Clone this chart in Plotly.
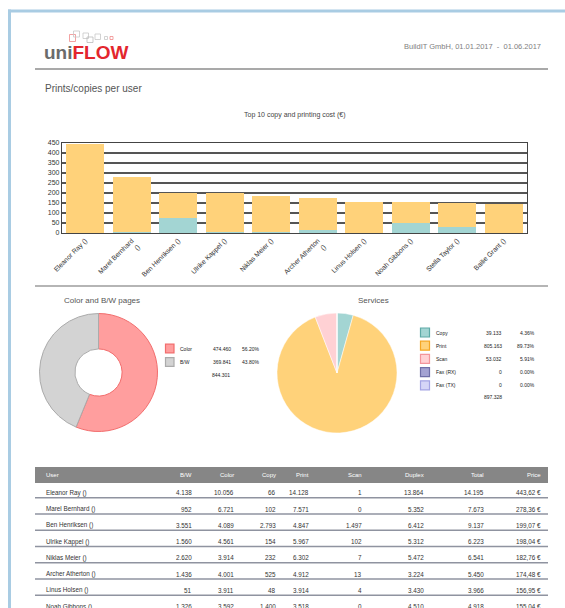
import plotly.graph_objects as go

W, H = 565, 608
FONT = "Liberation Sans, Arial, Helvetica, sans-serif"

# ---------------- data ----------------
bar_users = ["Eleanor Ray ()", "Marel Bernhard<br>()", "Ben Henriksen ()", "Ulrike Kappel ()",
             "Niklas Meier ()", "Archer Atherton<br>()", "Linus Holsen ()", "Noah Gibbons ()",
             "Stella Taylor ()", "Bailie Grant ()"]
bar_total_cost = [443.62, 278.36, 199.07, 198.04, 182.76, 174.48, 156.95, 155.04, 151.5, 147.0]
bar_copy_cost = [2, 3, 75, 4, 7, 14, 1.5, 50, 28, 1]
bar_print_cost = [t - c for t, c in zip(bar_total_cost, bar_copy_cost)]
y_ticks = [0, 50, 100, 150, 200, 250, 300, 350, 400, 450]

cbw_labels = ["Color", "B/W"]
cbw_values = [474460, 369841]
cbw_colors = ["#ff9e9e", "#d3d3d3"]
cbw_lines = ["#f26d6d", "#ababab"]

svc_labels = ["Copy", "Print", "Scan", "Fax (RX)", "Fax (TX)"]
svc_values = [39133, 805163, 53032, 0, 0]
svc_colors = ["#a3d5d3", "#ffd27a", "#ffd1d4", "#a3a2d2", "#d5d5f7"]
svc_lines = ["#5eaaa7", "#f5a623", "#f3959b", "#6f6fa8", "#a3a3e3"]

tbl_header = ["User", "B/W", "Color", "Copy", "Print", "Scan", "Duplex", "Total", "Price"]
tbl_user = ["Eleanor Ray ()", "Marel Bernhard ()", "Ben Henriksen ()", "Ulrike Kappel ()",
            "Niklas Meier ()", "Archer Atherton ()", "Linus Holsen ()", "Noah Gibbons ()"]
tbl_bw = [4138, 952, 3551, 1560, 2620, 1436, 51, 1326]
tbl_color = [10056, 6721, 4089, 4561, 3914, 4001, 3911, 3592]
tbl_copy = [66, 102, 2793, 154, 232, 525, 48, 1400]
tbl_print = [14128, 7571, 4847, 5967, 6302, 4912, 3914, 3518]
tbl_scan = [1, 0, 1497, 102, 7, 13, 4, 0]
tbl_duplex = [13864, 5352, 6412, 5312, 5472, 3224, 3430, 4510]
tbl_total = [14195, 7673, 9137, 6223, 6541, 5450, 3966, 4918]
tbl_price = [443.62, 278.36, 199.07, 198.04, 182.76, 174.48, 156.95, 155.04]


def de_int(v):
    return f"{v:,}".replace(",", ".")


def de_money(v):
    return f"{v:,.2f}".replace(",", "X").replace(".", ",").replace("X", ".") + " €"


def de_pct(v):
    return f"{v:.2f}%"


def px(x):
    return x / W


def py(y):
    return 1 - y / H


fig = go.Figure()

# ---------------- bar chart ----------------
fig.add_trace(go.Bar(x=bar_users, y=bar_copy_cost, marker=dict(color="#a3d5d3", line=dict(width=0)),
                     name="Copy", showlegend=False))
fig.add_trace(go.Bar(x=bar_users, y=bar_print_cost, marker=dict(color="#ffd27a", line=dict(width=0)),
                     name="Print", showlegend=False))

# ---------------- pies ----------------
fig.add_trace(go.Pie(labels=cbw_labels, values=cbw_values, hole=0.4, sort=False, direction="clockwise",
                     rotation=0, textinfo="none", showlegend=False, automargin=False,
                     marker=dict(colors=cbw_colors, line=dict(color=cbw_lines, width=1)),
                     domain=dict(x=[px(39.5), px(157.5)], y=[py(432), py(313)])))
fig.add_trace(go.Pie(labels=svc_labels, values=svc_values, sort=False, direction="clockwise",
                     rotation=0, textinfo="none", showlegend=False, automargin=False,
                     marker=dict(colors=svc_colors, line=dict(color="#ffffff", width=0.5)),
                     domain=dict(x=[px(277), px(397)], y=[py(433), py(313)])))

shapes = []
ann = []


def text(x, y, s, size, color="#333", xanchor="left", yanchor="middle", **kw):
    ann.append(dict(x=px(x), y=py(y), xref="paper", yref="paper", text=s, showarrow=False,
                    xanchor=xanchor, yanchor=yanchor, font=dict(size=size, color=color, family=FONT),
                    borderpad=0, borderwidth=0, **kw))


def rect(x0, y0, x1, y1, fill=None, line=None, lw=1):
    shapes.append(dict(type="rect", xref="paper", yref="paper", x0=px(x0), x1=px(x1), y0=py(y1), y1=py(y0),
                       fillcolor=fill if fill else "rgba(0,0,0,0)",
                       line=dict(color=line if line else "rgba(0,0,0,0)", width=lw if line else 0)))


def hline(x0, x1, y, color, lw):
    shapes.append(dict(type="line", xref="paper", yref="paper", x0=px(x0), x1=px(x1), y0=py(y), y1=py(y),
                       line=dict(color=color, width=lw)))


# page frame
rect(8, 9.5, W, 12.5, fill="#a9cce3")
rect(8, 9.5, 11, H, fill="#a9cce3")

# logo squares
rect(69.5, 34.5, 75.5, 41.5, line="#f08a8a", lw=0.8)
rect(73.5, 31, 79.5, 37, line="#c8c8c8", lw=0.8)
rect(83, 33, 88.5, 38.5, line="#c8c8c8", lw=0.8)
rect(87, 37, 93, 42.5, line="#bbbbbb", lw=0.8)
rect(95, 34, 100.5, 39.5, line="#c8c8c8", lw=0.8)
rect(104.5, 36.5, 107.5, 39.5, line="#c8c8c8", lw=0.8)
rect(110, 36.5, 113, 39.5, line="#f08a8a", lw=0.8)
text(44, 52.5, "<b><span style='color:#6b6b6b'>uni</span><span style='color:#e3262d'>FLOW</span></b>", 19)

text(541, 46, "BuildIT GmbH, 01.01.2017  -  01.06.2017", 7.5, color="#808080", xanchor="right")
hline(35, 548, 69, "#8c8c8c", 1.5)
text(45, 88, "Prints/copies per user", 10, color="#555")
text(295, 115, "Top 10 copy and printing cost (€)", 7, color="#444", xanchor="center")

hline(35, 548, 286, "#9c9c9c", 1.5)
text(102, 300, "Color and B/W pages", 8, color="#555", xanchor="center")
text(373, 300, "Services", 8, color="#555", xanchor="center")

# donut legend
cbw_total = sum(cbw_values)
for i, (lab, v) in enumerate(zip(cbw_labels, cbw_values)):
    yc = 348.5 + i * 13.5
    rect(165.5, yc - 4.3, 174, yc + 4.3, fill=cbw_colors[i], line=cbw_lines[i], lw=1.2)
    text(179.5, yc, lab, 5, color="#222")
    text(231, yc, de_int(v), 5, color="#222", xanchor="right")
    text(260, yc, de_pct(100 * v / cbw_total), 5, color="#222", xanchor="right")
text(230, 374.5, de_int(cbw_total), 5, color="#222", xanchor="right")

# services legend
svc_total = sum(svc_values)
for i, (lab, v) in enumerate(zip(svc_labels, svc_values)):
    yc = 332.5 + i * 13.2
    rect(420.5, yc - 4.5, 429.5, yc + 4.5, fill=svc_colors[i], line=svc_lines[i], lw=1.2)
    text(436, yc, lab, 5, color="#222")
    text(501.5, yc, de_int(v), 5, color="#222", xanchor="right")
    text(534.5, yc, de_pct(100 * v / svc_total), 5, color="#222", xanchor="right")
text(501.5, 397, de_int(svc_total), 5, color="#222", xanchor="right")

# ---------------- table ----------------
col_right = [None, 192, 233.5, 276, 308.5, 361.5, 423.5, 484, 541]
rect(35, 467, 548, 483, fill="#868686")
for j, h in enumerate(tbl_header):
    if j == 0:
        text(46, 475, h, 6, color="#ffffff")
    else:
        text(col_right[j], 475, h, 6, color="#ffffff", xanchor="right")

rows = list(zip(tbl_user, tbl_bw, tbl_color, tbl_copy, tbl_print, tbl_scan, tbl_duplex, tbl_total, tbl_price))
for i, r in enumerate(rows):
    yc = 492.8 + i * 16.25
    text(46, yc, r[0], 6.3, color="#333")
    for j in range(1, 8):
        text(col_right[j], yc, de_int(r[j]), 6.3, color="#333", xanchor="right")
    text(col_right[8], yc, de_money(r[8]), 6.3, color="#333", xanchor="right")
    sep = 497.8 + i * 16.25
    if sep < H:
        hline(35, 548, sep, "#8f93a0", 1.5)

fig.update_layout(
    width=W, height=H, margin=dict(l=0, r=0, t=0, b=0, pad=0, autoexpand=False),
    paper_bgcolor="#ffffff", plot_bgcolor="#ffffff",
    barmode="stack", bargap=0.19,
    font=dict(family=FONT, color="#333"),
    showlegend=False,
    shapes=shapes, annotations=ann,
    xaxis=dict(domain=[px(62), px(527)], showline=True, mirror=True, linecolor="#444", linewidth=1.2,
               tickangle=-45, tickfont=dict(size=6.8, color="#333", family=FONT), ticks="",
               showgrid=False, fixedrange=True, automargin=False),
    yaxis=dict(domain=[py(233), py(143)], range=[0, 450], tickvals=y_ticks, showline=True, mirror=True,
               linecolor="#444", linewidth=1.2, showgrid=True, gridcolor="#555", gridwidth=1.6,
               tickfont=dict(size=7, color="#333", family=FONT), ticks="", zeroline=False, fixedrange=True,
               automargin=False),
)

fig.write_html("out.html", config={"displayModeBar": False, "responsive": False},
               post_script="document.body.style.margin='0';document.body.style.padding='0';"
                           "document.body.style.overflow='hidden';"
                           "document.documentElement.style.overflow='hidden';")
